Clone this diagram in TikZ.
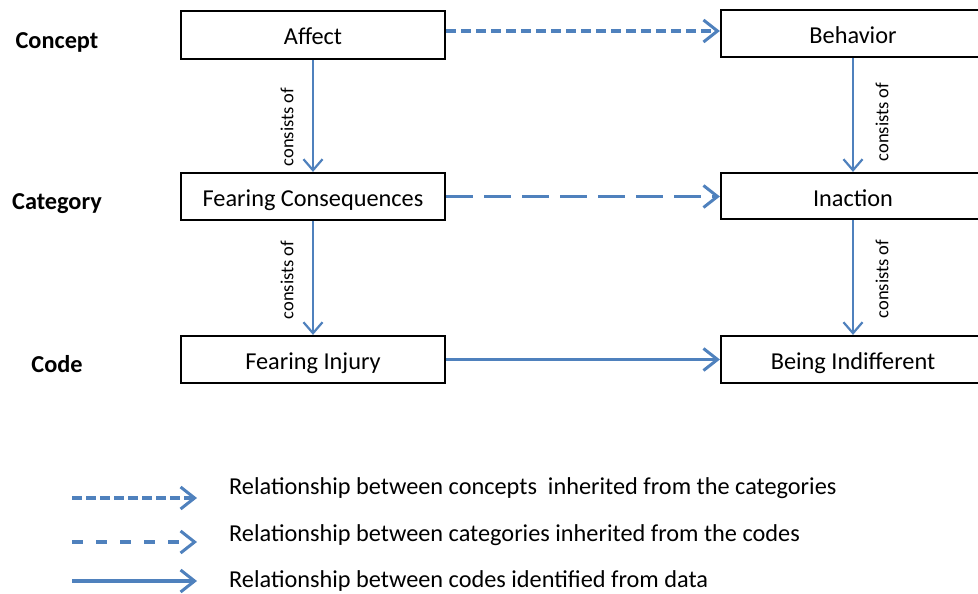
\documentclass[tikz,border=0pt]{standalone}
\usepackage{fontspec}
\setmainfont{Carlito}
\usetikzlibrary{arrows.meta}
\definecolor{arrblue}{RGB}{79,129,189}
\begin{document}
\begin{tikzpicture}[x=1pt,y=-1pt,
  box/.style={draw=black,line width=2.2pt,minimum width=264pt,inner sep=0pt,text height=21pt,text depth=1pt,font=\fontsize{24.3}{29}\selectfont},
  lvl/.style={anchor=base,font=\fontsize{24.3}{29}\selectfont\bfseries},
  rel/.style={draw=arrblue,line width=3.6pt,-{Straight Barb[length=14pt,width=22pt,line width=3pt]}},
  vrel/.style={draw=arrblue,line width=2.2pt,-{Straight Barb[length=11pt,width=19pt,line width=2.2pt]}},
  cons/.style={rotate=90,font=\fontsize{18.5}{21}\selectfont},
  leg/.style={anchor=west,font=\fontsize{24.3}{29}\selectfont,inner sep=0pt}]
\clip (0,0) rectangle (978,594);
\fill[white] (0,0) rectangle (978,594);
% boxes
\node[box,minimum height=48pt] (affect) at (313,35) {Affect};
\node[box,minimum height=47pt] (behav) at (853,33.5) {Behavior};
\node[box,minimum height=47pt] (fcons) at (313,196.5) {Fearing Consequences};
\node[box,minimum height=46pt] (inact) at (853,196) {Inaction};
\node[box,minimum height=47pt] (finj) at (313,359.5) {Fearing Injury};
\node[box,minimum height=47pt] (bind) at (853,359.5) {Being Indifferent};
% level labels
\node[lvl] (lconcept) at (57,49) {Concept};
\node[lvl] (lcat) at (57,209) {Category};
\node[lvl] (lcode) at (57,372) {Code};
% horizontal relations
\draw[rel,dash pattern=on 10pt off 5pt] ([yshift=4pt]affect.east) -- ([yshift=4pt]affect.east -| behav.west);
\draw[rel,dash pattern=on 27pt off 11pt] (fcons.east) -- (fcons.east -| inact.west);
\draw[rel] (finj.east) -- (finj.east -| bind.west);
% vertical relations
\draw[vrel] (affect.south) -- (fcons.north);
\draw[vrel] (fcons.south) -- (finj.north);
\draw[vrel] (behav.south) -- (inact.north);
\draw[vrel] (inact.south) -- (bind.north);
\node[cons] (c1) at (287,127) {consists of};
\node[cons] (c2) at (287,280) {consists of};
\node[cons] (c3) at (882,122) {consists of};
\node[cons] (c4) at (882,279) {consists of};
% legend
\coordinate (l1a) at (72,498);
\coordinate (l1b) at (197,498);
\coordinate (l2a) at (72,542);
\coordinate (l2b) at (197,542);
\coordinate (l3a) at (72,581);
\coordinate (l3b) at (197,581);
\draw[rel,dash pattern=on 10pt off 4pt] (l1a) -- (l1b);
\draw[rel,dash pattern=on 11pt off 13pt] (l2a) -- (l2b);
\draw[rel] (l3a) -- (l3b);
\node[leg] (t1) at (229,488) {Relationship between concepts\ \ inherited from the categories};
\node[leg] (t2) at (229,535) {Relationship between categories inherited from the codes};
\node[leg] (t3) at (229,581) {Relationship between codes identified from data};
\end{tikzpicture}
\end{document}
